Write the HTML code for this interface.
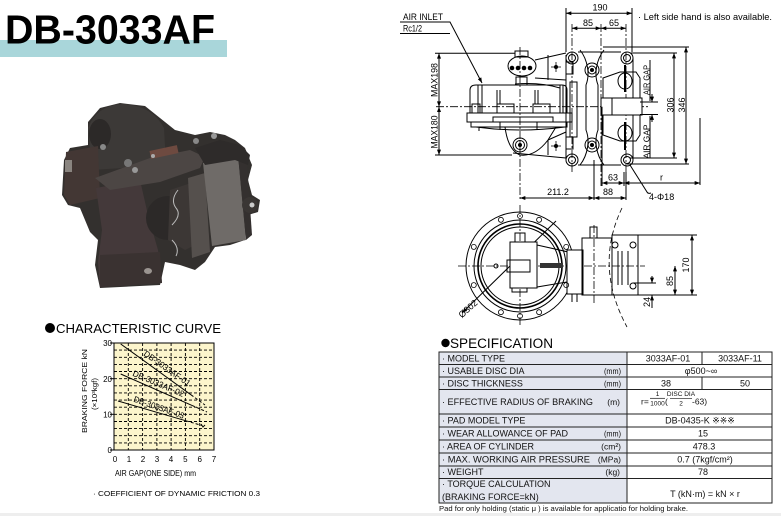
<!DOCTYPE html>
<html><head><meta charset="utf-8"><style>
html,body{margin:0;padding:0;background:#fff;}
svg{display:block;font-family:"Liberation Sans",Arial,sans-serif;}
</style></head><body>
<svg width="781" height="516" viewBox="0 0 781 516" xmlns="http://www.w3.org/2000/svg">
<defs>
<marker id="ar" viewBox="0 0 8 6" refX="8" refY="3" markerWidth="6" markerHeight="4" orient="auto-start-reverse" markerUnits="userSpaceOnUse"><path d="M0,0 L8,3 L0,6 z" fill="#000"/></marker>
</defs>
<rect width="781" height="516" fill="#fff"/>
<rect x="0" y="513" width="781" height="3" fill="#eeeeee"/>

<!-- TITLE -->
<rect x="0" y="40" width="227" height="17" fill="#a9d6da"/>
<text x="5" y="43.5" font-size="41" font-weight="bold" textLength="210" lengthAdjust="spacingAndGlyphs" fill="#000">DB-3033AF</text>

<!-- PHOTO -->
<g>
<polygon fill="#33302e" points="64,160 70,148 88,145 88,122 100,108 120,103 145,106 160,118 175,130 195,135 210,132 225,135 235,140 245,148 252,165 248,180 252,195 260,200 258,212 248,215 245,240 230,245 215,247 205,262 195,270 180,265 165,262 160,285 100,288 95,265 98,240 90,232 80,208 68,205 62,195"/>
<path d="M88,128 Q96,106 122,104 Q152,105 164,128 L166,165 L92,170 Z" fill="#3c3937"/>
<ellipse cx="100" cy="134" rx="11" ry="15" fill="#2c2928"/>
<polygon fill="#433734" points="66,152 98,146 100,198 70,205 64,195"/>
<rect x="65" y="160" width="7" height="12" fill="#8a8580"/>
<polygon fill="#44393a" points="96,188 140,180 148,215 158,250 162,283 100,287 98,262 102,230"/>
<polygon fill="#3a3231" points="100,255 160,252 162,283 100,287"/>
<ellipse cx="148" cy="271" rx="4" ry="3" fill="#9a9490"/>
<polygon fill="#4c4644" points="95,178 150,158 190,150 205,157 200,168 160,182 110,190"/>
<rect x="150" y="148" width="28" height="8" fill="#6e4a40" transform="rotate(-12 164 152)"/>
<ellipse cx="168" cy="218" rx="22" ry="22" fill="#2c2928"/>
<polygon fill="#3c3735" points="170,190 200,180 205,240 185,250 168,240"/>
<polygon fill="#55504d" points="188,178 205,173 210,252 192,258"/>
<polygon fill="#6f6b68" points="203,163 238,155 246,240 212,246"/>
<polygon fill="#34302f" points="238,155 246,150 252,235 246,240"/>
<polygon fill="#2e2b2a" points="195,148 220,140 240,145 250,155 248,165 235,160 205,165"/>
<circle cx="250" cy="205" r="8" fill="#3a3634"/>
<circle cx="252" cy="205" r="2.5" fill="#ccc"/>
<circle cx="128" cy="163" r="4" fill="#777"/>
<circle cx="135" cy="170" r="3" fill="#999"/>
<circle cx="103" cy="147" r="3" fill="#888"/>
<circle cx="196" cy="141" r="3" fill="#888"/>
<circle cx="214" cy="136" r="3" fill="#999"/>
<circle cx="153" cy="156" r="2" fill="#aaa"/>
<path d="M178,190 Q170,200 176,208 Q182,215 172,225 M172,240 Q180,248 176,256" stroke="#bbb" stroke-width="1" fill="none"/>
</g>

<!-- CHART -->
<circle cx="50" cy="328" r="5" fill="#000"/>
<text x="56" y="333" font-size="13" textLength="165" lengthAdjust="spacingAndGlyphs">CHARACTERISTIC CURVE</text>
<rect x="114" y="343" width="100" height="107" fill="#fcf5cc"/>
<g stroke="#000" stroke-width="0.9" stroke-dasharray="3 2">
<line x1="128.3" y1="343" x2="128.3" y2="450"/><line x1="142.6" y1="343" x2="142.6" y2="450"/>
<line x1="156.9" y1="343" x2="156.9" y2="450"/><line x1="171.1" y1="343" x2="171.1" y2="450"/>
<line x1="185.4" y1="343" x2="185.4" y2="450"/><line x1="199.7" y1="343" x2="199.7" y2="450"/>
<line x1="114" y1="442.9" x2="214" y2="442.9"/><line x1="114" y1="435.7" x2="214" y2="435.7"/>
<line x1="114" y1="428.6" x2="214" y2="428.6"/><line x1="114" y1="421.5" x2="214" y2="421.5"/>
<line x1="114" y1="414.3" x2="214" y2="414.3"/><line x1="114" y1="407.2" x2="214" y2="407.2"/>
<line x1="114" y1="400.1" x2="214" y2="400.1"/><line x1="114" y1="392.9" x2="214" y2="392.9"/>
<line x1="114" y1="385.8" x2="214" y2="385.8"/><line x1="114" y1="378.7" x2="214" y2="378.7"/>
<line x1="114" y1="371.5" x2="214" y2="371.5"/><line x1="114" y1="364.4" x2="214" y2="364.4"/>
<line x1="114" y1="357.3" x2="214" y2="357.3"/><line x1="114" y1="350.1" x2="214" y2="350.1"/>
</g>
<rect x="114" y="343" width="100" height="107" fill="none" stroke="#000" stroke-width="1"/>
<g stroke="#000" stroke-width="1">
<line x1="110" y1="343" x2="114" y2="343"/><line x1="110" y1="378.7" x2="114" y2="378.7"/>
<line x1="110" y1="414.3" x2="114" y2="414.3"/><line x1="110" y1="450" x2="114" y2="450"/>
<line x1="120.7" y1="344" x2="191" y2="394.8"/>
<line x1="191" y1="394.8" x2="205" y2="405" stroke-dasharray="3 2"/>
<line x1="120.7" y1="374" x2="192" y2="405.4"/>
<line x1="192" y1="405.4" x2="207" y2="412" stroke-dasharray="3 2"/>
<line x1="118" y1="401" x2="186" y2="420.8"/>
<line x1="186" y1="420.8" x2="202" y2="425.5" stroke-dasharray="3 2"/>
<path d="M201,424 l2,3 l2,-2" fill="none"/>
</g>
<g font-size="8.5">
<text transform="translate(143,355) rotate(35)" textLength="55" lengthAdjust="spacingAndGlyphs">DB-3033AF-01</text>
<text transform="translate(132,375.5) rotate(23)" textLength="55" lengthAdjust="spacingAndGlyphs">DB-3033AF-02</text>
<text transform="translate(133,401.5) rotate(19)" textLength="53" lengthAdjust="spacingAndGlyphs">DB-3033AF-03</text>
</g>
<g font-size="8" text-anchor="end">
<text x="112" y="346">30</text><text x="112" y="382">20</text><text x="112" y="417.5">10</text><text x="112" y="453">0</text>
</g>
<g font-size="8" text-anchor="middle">
<text x="115" y="462">0</text><text x="129" y="462">1</text><text x="143" y="462">2</text><text x="157" y="462">3</text>
<text x="171" y="462">4</text><text x="185.4" y="462">5</text><text x="199.7" y="462">6</text><text x="214" y="462">7</text>
</g>
<text x="115" y="476" font-size="8" textLength="81" lengthAdjust="spacingAndGlyphs">AIR GAP(ONE SIDE) mm</text>
<text transform="translate(87,433) rotate(-90)" font-size="7.5" textLength="84" lengthAdjust="spacingAndGlyphs">BRAKING FORCE kN</text>
<text transform="translate(97,410) rotate(-90)" font-size="7.5" textLength="32" lengthAdjust="spacingAndGlyphs">(×10³kgf)</text>
<text x="93" y="496" font-size="7.5" textLength="167" lengthAdjust="spacingAndGlyphs">· COEFFICIENT OF DYNAMIC FRICTION 0.3</text>

<!-- TOP DRAWING -->
<g font-size="9">
<text x="403" y="20" textLength="40" lengthAdjust="spacingAndGlyphs">AIR INLET</text>
<text x="403" y="31.5" textLength="19" lengthAdjust="spacingAndGlyphs">Rc1/2</text>
<text x="600" y="10.5" text-anchor="middle">190</text>
<text x="588" y="26" text-anchor="middle">85</text>
<text x="614" y="26" text-anchor="middle">65</text>
<text x="638" y="20" textLength="134" lengthAdjust="spacingAndGlyphs">· Left side hand is also available.</text>
<text transform="translate(437.5,80) rotate(-90)" text-anchor="middle" textLength="34" lengthAdjust="spacingAndGlyphs">MAX198</text>
<text transform="translate(437.5,132) rotate(-90)" text-anchor="middle" textLength="33" lengthAdjust="spacingAndGlyphs">MAX180</text>
<text transform="translate(649.5,80) rotate(-90)" text-anchor="middle" font-size="8.5" textLength="30" lengthAdjust="spacingAndGlyphs">AIR GAP</text>
<text transform="translate(649.5,141.5) rotate(-90)" text-anchor="middle" font-size="8.5" textLength="34" lengthAdjust="spacingAndGlyphs">AIR GAP</text>
<text transform="translate(673.5,105) rotate(-90)" text-anchor="middle">306</text>
<text transform="translate(685,105) rotate(-90)" text-anchor="middle">346</text>
<text x="613" y="180.5" text-anchor="middle">63</text>
<text x="661.5" y="180.5" text-anchor="middle">r</text>
<text x="558" y="195" text-anchor="middle">211.2</text>
<text x="608" y="195" text-anchor="middle">88</text>
<text x="649" y="200">4-Φ18</text>
</g>
<g stroke="#000" stroke-width="1" fill="none">
<path d="M400,22 H450 L482,83" marker-end="url(#ar)"/>
<path d="M400,33.5 H450"/>
<line x1="566" y1="13.3" x2="632" y2="13.3" marker-start="url(#ar)" marker-end="url(#ar)"/>
<line x1="566" y1="8" x2="566" y2="52"/><line x1="632" y1="8" x2="632" y2="52"/>
<line x1="572" y1="28.3" x2="601" y2="28.3" marker-start="url(#ar)" marker-end="url(#ar)"/>
<line x1="601" y1="28.3" x2="626" y2="28.3" marker-start="url(#ar)" marker-end="url(#ar)"/>
<g stroke-dasharray="8 2 2 2" stroke-width="0.8">
<line x1="572" y1="24" x2="572" y2="172"/><line x1="601" y1="24" x2="601" y2="188"/>
<line x1="626" y1="24" x2="626" y2="172"/>
<line x1="436" y1="106.7" x2="648" y2="106.7"/>
<line x1="520" y1="47" x2="520" y2="200"/>
</g>
<line x1="626" y1="172" x2="626" y2="200"/>
<line x1="439" y1="53.3" x2="439" y2="106.7" marker-start="url(#ar)" marker-end="url(#ar)"/>
<line x1="439" y1="106.7" x2="439" y2="155" marker-start="url(#ar)" marker-end="url(#ar)"/>
<line x1="435" y1="53.3" x2="515" y2="53.3"/>
<line x1="435" y1="155" x2="512" y2="155"/>
<!-- cylinder -->
<path d="M470,113 V90 Q470,85 476,85 H562 Q567,85 567,90 V113"/>
<path d="M478,85 V113 M482,85 V113 M497,90 V104 M500,90 V104 M535,90 V104 M538,90 V104 M560,85 V113 M563,85 V113 M515,84 Q540,82 560,88"/>
<rect x="467" y="113" width="105" height="9"/>
<rect x="497" y="104" width="17" height="9"/><rect x="533" y="104" width="17" height="9"/>
<rect x="472" y="104" width="8" height="9"/>
<rect x="471" y="122" width="96" height="5"/>
<rect x="493" y="117" width="60" height="5"/>
<path d="M479,127 V131 M500,122 V130 M537,122 V130 M476,127 Q520,133 565,127"/>
<path d="M505,127 Q508,150 520,155 Q535,157 548,140 L556,127"/>
<circle cx="520" cy="145" r="7"/><circle cx="520" cy="145" r="4.5"/>
<!-- valve -->
<rect x="515" y="51" width="13" height="6"/>
<ellipse cx="522" cy="66" rx="14" ry="10"/>
<rect x="516" y="77" width="11" height="8"/>
<path d="M535,60 L566,53 M535,78 L566,80 M548,55 V80"/>
<rect x="566" y="62" width="7" height="12"/>
<path d="M548,140 L566,132 M513,153 L566,158 M548,140 V155"/>
<rect x="566" y="137" width="7" height="12"/>
<rect x="570" y="82" width="7" height="55"/>
<!-- caliper -->
<circle cx="572" cy="58" r="6"/><circle cx="572" cy="58" r="3.5"/>
<circle cx="627" cy="58" r="6"/><circle cx="627" cy="58" r="3.5"/>
<circle cx="572" cy="160" r="6"/><circle cx="572" cy="160" r="3.5"/>
<circle cx="627" cy="160" r="6"/><circle cx="627" cy="160" r="3.5"/>
<path d="M578,52 L621,52 M578,165 L621,165 M566,55 L566,160 M633,58 L633,160"/>
<path d="M580,50 C588,60 590,75 586,85 L586,130 C590,140 588,155 580,165 M604,50 C596,60 594,75 598,85 L598,130 C594,140 596,155 604,165"/>
<circle cx="592" cy="70" r="7"/><circle cx="592" cy="70" r="4"/>
<circle cx="592" cy="145" r="7"/><circle cx="592" cy="145" r="4"/>
<path d="M603,78 L620,72 L636,72 L640,78 L640,98 L603,98 Z"/>
<path d="M603,115 L640,115 L640,135 L636,141 L620,141 L603,135 Z"/>
<rect x="601" y="98" width="41" height="17" fill="#fff"/>
<path d="M612,98 V115"/>
<ellipse cx="625" cy="81" rx="7" ry="8"/><ellipse cx="625" cy="133" rx="7" ry="8"/>
<path d="M625,65 V92 M625,122 V150" stroke-width="2"/>
<!-- right dims -->
<path d="M650,60 V101 M650,116 V158"/>
<path d="M640,102 H658 M640,114.5 H658"/>
<line x1="652" y1="94" x2="652" y2="102" marker-end="url(#ar)"/>
<line x1="652" y1="122" x2="652" y2="114.5" marker-end="url(#ar)"/>
<path d="M603,47 H689 M630,53 H677 M630,158 H677 M627,164 H689"/>
<line x1="674" y1="53" x2="674" y2="158" marker-start="url(#ar)" marker-end="url(#ar)"/>
<line x1="686" y1="47" x2="686" y2="164" marker-start="url(#ar)" marker-end="url(#ar)"/>
<line x1="602" y1="106.7" x2="602" y2="186"/>
<line x1="700" y1="118" x2="700" y2="185"/>
<line x1="602" y1="183" x2="624" y2="183" marker-start="url(#ar)" marker-end="url(#ar)"/>
<line x1="624" y1="183" x2="700" y2="183" marker-start="url(#ar)" marker-end="url(#ar)"/>
<line x1="624" y1="172" x2="624" y2="186"/>
<line x1="594" y1="160" x2="594" y2="200"/>
<line x1="520" y1="198" x2="594" y2="198" marker-start="url(#ar)" marker-end="url(#ar)"/>
<line x1="594" y1="198" x2="626" y2="198" marker-start="url(#ar)" marker-end="url(#ar)"/>
<path d="M630,165 L647,192 Q648,194 651,193"/>
</g>
<g fill="#000">
<circle cx="512" cy="68" r="2.3"/><circle cx="518" cy="68" r="2.3"/><circle cx="524" cy="68" r="2.3"/><circle cx="530" cy="68" r="2.3"/>
<circle cx="556" cy="67" r="2"/><circle cx="556" cy="146" r="2"/>
<circle cx="592" cy="70" r="2"/><circle cx="592" cy="145" r="2"/>
<circle cx="520" cy="145" r="2"/>
</g>
<path d="M551,67 H561 M556,62 V72 M551,146 H561 M556,141 V151" stroke="#000" stroke-width="0.8"/>

<!-- BOTTOM DRAWING -->
<g stroke="#000" stroke-width="1" fill="none">
<circle cx="520" cy="266" r="54"/>
<circle cx="520" cy="266" r="46"/>
<circle cx="520" cy="266" r="42" stroke-width="1.6"/>
<circle cx="520" cy="266" r="39"/>
<g stroke-dasharray="8 2 2 2" stroke-width="0.8">
<line x1="520" y1="205" x2="520" y2="327"/>
<line x1="458" y1="266" x2="645" y2="266"/>
<line x1="594" y1="225" x2="594" y2="305"/>
</g>
<line x1="462" y1="313" x2="556" y2="221" marker-start="url(#ar)"/>
<rect x="510" y="242" width="27" height="46" fill="#fff"/>
<rect x="507" y="260" width="23" height="12"/>
<rect x="515" y="233" width="10" height="9"/>
<rect x="512" y="288" width="15" height="4"/>
<circle cx="496" cy="266" r="2"/>
<polygon points="537,245 567,251.7 567,282 537,287"/>
<rect x="567" y="250" width="16" height="44" fill="#fff"/>
<path d="M572,294 V302 M577,294 V302"/>
<rect x="582" y="238" width="30" height="57"/>
<rect x="590" y="227" width="7" height="11"/>
<rect x="612" y="235" width="26" height="60"/>
<circle cx="615" cy="245" r="3"/><circle cx="633" cy="245" r="3"/><circle cx="633" cy="286" r="3"/>
<path d="M618,251 V285 M622,251 V285 M628,251 V285" />
<path d="M622,208 Q594,266 627,327" stroke-dasharray="5 3" stroke-width="0.8"/>
<path d="M638,235 H697 M638,295 H697 M633,283 H656"/>
<line x1="692" y1="235" x2="692" y2="295" marker-start="url(#ar)" marker-end="url(#ar)"/>
<line x1="675" y1="266" x2="675" y2="295" marker-start="url(#ar)" marker-end="url(#ar)"/>
<line x1="652" y1="276" x2="652" y2="283" marker-end="url(#ar)"/>
<line x1="652" y1="308" x2="652" y2="295" marker-end="url(#ar)"/>
</g>
<rect x="540" y="263" width="23" height="5" fill="#333"/>
<g fill="none" stroke="#000" stroke-width="0.8">
<circle cx="566.2" cy="246.9" r="2.5"/><circle cx="566.2" cy="285.1" r="2.5"/>
<circle cx="539.1" cy="219.8" r="2.5"/><circle cx="520" cy="216" r="2.5"/>
<circle cx="500.9" cy="219.8" r="2.5"/><circle cx="473.8" cy="246.9" r="2.5"/>
<circle cx="473.8" cy="285.1" r="2.5"/><circle cx="500.9" cy="312.2" r="2.5"/>
<circle cx="520" cy="316" r="2.5"/><circle cx="539.1" cy="312.2" r="2.5"/>
</g>
<g font-size="9">
<text transform="translate(689,265) rotate(-90)" text-anchor="middle">170</text>
<text transform="translate(673,281) rotate(-90)" text-anchor="middle">85</text>
<text transform="translate(650,302) rotate(-90)" text-anchor="middle">24</text>
<text transform="translate(470,311) rotate(-42)" text-anchor="middle">Ø302</text>
</g>

<!-- SPECIFICATION -->
<circle cx="445.5" cy="343" r="4.2" fill="#000"/>
<text x="450" y="348" font-size="13.5" textLength="103" lengthAdjust="spacingAndGlyphs">SPECIFICATION</text>
<rect x="439" y="352" width="188" height="151" fill="#e3e6ef"/>
<g stroke="#222" stroke-width="1" fill="none">
<rect x="439" y="352" width="333" height="151"/>
<line x1="627" y1="352" x2="627" y2="503"/>
<line x1="702" y1="352" x2="702" y2="364.5"/>
<line x1="702" y1="377" x2="702" y2="389.5"/>
<line x1="439" y1="364.5" x2="772" y2="364.5"/>
<line x1="439" y1="377" x2="772" y2="377"/>
<line x1="439" y1="389.5" x2="772" y2="389.5"/>
<line x1="439" y1="414" x2="772" y2="414"/>
<line x1="439" y1="427" x2="772" y2="427"/>
<line x1="439" y1="440" x2="772" y2="440"/>
<line x1="439" y1="453" x2="772" y2="453"/>
<line x1="439" y1="466" x2="772" y2="466"/>
<line x1="439" y1="478.5" x2="772" y2="478.5"/>
</g>
<g font-size="9" fill="#111">
<text x="442" y="361.5">· MODEL TYPE</text>
<text x="442" y="374">· USABLE DISC DIA</text>
<text x="442" y="386.5">· DISC THICKNESS</text>
<text x="442" y="405" textLength="151" lengthAdjust="spacingAndGlyphs">· EFFECTIVE RADIUS OF BRAKING</text>
<text x="442" y="423.5">· PAD MODEL TYPE</text>
<text x="442" y="436.5">· WEAR ALLOWANCE OF PAD</text>
<text x="442" y="449.5">· AREA OF CYLINDER</text>
<text x="442" y="462.5" textLength="148" lengthAdjust="spacingAndGlyphs">· MAX. WORKING AIR PRESSURE</text>
<text x="442" y="475">· WEIGHT</text>
<text x="442" y="487">· TORQUE CALCULATION</text>
<text x="442" y="500">(BRAKING FORCE=kN)</text>
</g>
<g font-size="8.5" fill="#111" text-anchor="end">
<text x="621" y="374" textLength="17" lengthAdjust="spacingAndGlyphs">(mm)</text>
<text x="621" y="386.5" textLength="17" lengthAdjust="spacingAndGlyphs">(mm)</text>
<text x="620" y="405">(m)</text>
<text x="621" y="436.5" textLength="17" lengthAdjust="spacingAndGlyphs">(mm)</text>
<text x="621" y="449.5">(cm²)</text>
<text x="621" y="462.5">(MPa)</text>
<text x="620" y="475">(kg)</text>
</g>
<g font-size="9" fill="#111" text-anchor="middle">
<text x="668" y="361.5">3033AF-01</text>
<text x="740" y="361.5">3033AF-11</text>
<text x="701" y="374">φ500~∞</text>
<text x="666" y="386.5">38</text>
<text x="745" y="386.5">50</text>
<text x="700" y="423.5">DB-0435-K ※※※</text>
<text x="703" y="436.5">15</text>
<text x="704" y="449.5">478.3</text>
<text x="705" y="462.5">0.7 (7kgf/cm²)</text>
<text x="703" y="475">78</text>
<text x="705" y="497">T (kN·m) = kN × r</text>
</g>
<g font-size="8.5" fill="#111">
<text x="641" y="404.5">r=</text>
<text x="657.5" y="396" font-size="6.5" text-anchor="middle">1</text>
<line x1="650" y1="398.3" x2="665" y2="398.3" stroke="#111" stroke-width="0.7"/>
<text x="657.5" y="405.5" font-size="6.5" text-anchor="middle">1000</text>
<text x="665" y="404.5">(</text>
<text x="681" y="396" font-size="6.5" text-anchor="middle">DISC DIA</text>
<line x1="670" y1="398.3" x2="692" y2="398.3" stroke="#111" stroke-width="0.7"/>
<text x="681" y="405.5" font-size="6.5" text-anchor="middle">2</text>
<text x="692" y="404.5">-63)</text>
</g>
<text x="439" y="511" font-size="7.5" fill="#111" textLength="249" lengthAdjust="spacingAndGlyphs">Pad for only holding (static μ ) is available for applicatio for holding brake.</text>
</svg>
</body></html>
